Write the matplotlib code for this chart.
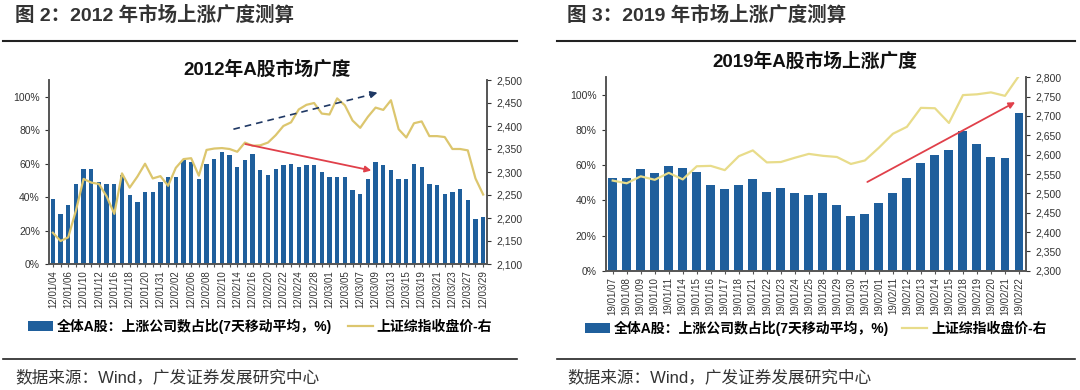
import numpy as np
import matplotlib
matplotlib.use('Agg')
import matplotlib.pyplot as plt
from matplotlib.patches import Patch
from matplotlib.lines import Line2D
from matplotlib.ticker import FuncFormatter

# 全局字体：西文用 Liberation Sans，中文回退到 Noto Sans CJK SC
plt.rcParams['font.family'] = ['Liberation Sans', 'Noto Sans CJK SC']
plt.rcParams['axes.unicode_minus'] = False

# =====数据：2012年=====
dates_2012 = ['12/01/04', '12/01/05', '12/01/06', '12/01/09', '12/01/10', '12/01/11', '12/01/12', '12/01/13',
              '12/01/16', '12/01/17', '12/01/18', '12/01/19', '12/01/20', '12/01/30', '12/01/31',
              '12/02/01', '12/02/02', '12/02/03', '12/02/06', '12/02/07', '12/02/08', '12/02/09', '12/02/10',
              '12/02/13', '12/02/14', '12/02/15', '12/02/16', '12/02/17', '12/02/20', '12/02/21', '12/02/22',
              '12/02/23', '12/02/24', '12/02/27', '12/02/28', '12/02/29', '12/03/01', '12/03/02', '12/03/05',
              '12/03/06', '12/03/07', '12/03/08', '12/03/09', '12/03/12', '12/03/13', '12/03/14', '12/03/15',
              '12/03/16', '12/03/19', '12/03/20', '12/03/21', '12/03/22', '12/03/23', '12/03/26', '12/03/27',
              '12/03/28', '12/03/29']
breadth_2012 = [39, 30, 35, 48, 57, 57, 49, 48, 48, 53, 41, 37, 43, 43, 49, 52, 52, 62, 61,
                51, 60, 63, 67, 65, 58, 62, 66, 56, 53, 57, 59, 60, 58, 59, 59, 55, 52, 52, 52,
                44, 42, 51, 61, 59, 56, 51, 51, 60, 58, 48, 47, 42, 43, 45, 38, 27, 28]
sh_2012 = [2168, 2150, 2158, 2216, 2285, 2277, 2274, 2247, 2209, 2297, 2266, 2290, 2318, 2286, 2291,
           2270, 2309, 2328, 2330, 2292, 2348, 2351, 2352, 2350, 2344, 2364, 2357, 2358, 2364, 2380,
           2400, 2408, 2436, 2446, 2450, 2427, 2425, 2460, 2445, 2412, 2396, 2420, 2440, 2435, 2456,
           2393, 2375, 2406, 2410, 2378, 2378, 2376, 2350, 2350, 2347, 2286, 2251]

# =====数据：2019年=====
dates_2019 = ['19/01/07', '19/01/08', '19/01/09', '19/01/10', '19/01/11', '19/01/14', '19/01/15', '19/01/16',
              '19/01/17', '19/01/18', '19/01/21', '19/01/22', '19/01/23', '19/01/24', '19/01/25', '19/01/28',
              '19/01/29', '19/01/30', '19/01/31', '19/02/01', '19/02/11', '19/02/12', '19/02/13', '19/02/14',
              '19/02/15', '19/02/18', '19/02/19', '19/02/20', '19/02/21', '19/02/22']
breadth_2019 = [52.8, 52.6, 57.6, 55.4, 59.7, 58.4, 56.3, 48.7, 46.2, 49.0, 52.3, 44.5, 47.3, 44.3,
                43.1, 44.3, 37.2, 31.3, 32.0, 38.6, 44.2, 52.5, 61.1, 65.8, 68.4, 79.4, 71.8, 64.8,
                64.3, 89.8]
sh_2019 = [2533, 2526, 2544, 2535, 2553, 2536, 2570, 2571, 2560, 2596, 2611, 2580, 2581, 2592, 2602,
           2597, 2594, 2576, 2585, 2618, 2654, 2672, 2721, 2720, 2682, 2754, 2756, 2761, 2752, 2804]

bar_label = '全体A股：上涨公司数占比(7天移动平均，%)'
line_label = '上证综指收盘价-右'

BAR_COLOR = '#1f5f9c'
AXIS_COLOR = '#555555'


def to_percent(temp, position):
    return '%1.0f' % (100 * temp) + '%'


def draw_panel(fig, rect, dates, breadth, sh, ylim2, yticks2, line_color, bar_width, label_step):
    ax = fig.add_axes(rect)
    x = np.arange(len(dates))
    ax.bar(x, np.array(breadth) / 100, width=bar_width, color=BAR_COLOR, zorder=1)
    ax.set_xlim(-0.5, len(dates) - 0.5)
    ax.set_ylim(0, 1.1)
    ax.set_yticks(np.arange(0, 1.01, 0.2))
    ax.yaxis.set_major_formatter(FuncFormatter(to_percent))
    ax.set_xticks(x)
    ax.set_xticklabels([d if i % label_step == 0 else '' for i, d in enumerate(dates)],
                       rotation=90, fontsize=7, color='#333333')
    ax.tick_params(axis='y', labelsize=7.5, colors='#333333', length=3, direction='out')
    ax.tick_params(axis='x', length=2.5, color=AXIS_COLOR, pad=2)
    ax.spines['top'].set_visible(False)
    for s in ['left', 'right', 'bottom']:
        ax.spines[s].set_color(AXIS_COLOR)
        ax.spines[s].set_linewidth(1.2)

    ax2 = ax.twinx()
    ax2.plot(x, sh, color=line_color, lw=1.6, zorder=3)
    ax2.set_ylim(*ylim2)
    ax2.set_yticks(yticks2)
    ax2.yaxis.set_major_formatter(FuncFormatter(lambda v, p: '{:,.0f}'.format(v)))
    ax2.tick_params(axis='y', labelsize=7.5, colors='#333333', length=3, direction='out')
    ax2.spines['top'].set_visible(False)
    for s in ['left', 'right', 'bottom']:
        ax2.spines[s].set_color(AXIS_COLOR)
        ax2.spines[s].set_linewidth(1.2)
    return ax, ax2


fig = plt.figure(figsize=(10.8, 3.9), dpi=100)
fig.patch.set_facecolor('white')

# =====左图：2012年=====
ax_l, ax_l2 = draw_panel(fig, [49 / 1080, 126 / 390, 438 / 1080, 184 / 390],
                         dates_2012, breadth_2012, sh_2012, (2100, 2500),
                         np.arange(2100, 2501, 50), '#dcc66e', 0.56, 2)
# 虚线箭头（上证综指上涨）
ax_l2.plot([23.5, 41.8], [2393, 2470], color='#1f3864', lw=1.2, ls=(0, (4, 3)), zorder=4)
ax_l2.annotate('', xy=(42.6, 2474), xytext=(41.0, 2467),
               arrowprops=dict(arrowstyle='-|>', color='#1f3864', lw=1.2, mutation_scale=10), zorder=4)
# 红色箭头（上涨广度下降）
ax_l2.annotate('', xy=(41.8, 2302), xytext=(24.7, 2362),
               arrowprops=dict(arrowstyle='-|>', color='#e0404a', lw=1.3, mutation_scale=9), zorder=4)
fig.text(267 / 1080, 1 - 70 / 390, '2012年A股市场广度', ha='center', va='center',
         fontsize=13.5, fontweight='bold', color='#111111')

# =====右图：2019年=====
ax_r, ax_r2 = draw_panel(fig, [605.7 / 1080, 119.3 / 390, 420.3 / 1080, 193.4 / 390],
                         dates_2019, breadth_2019, sh_2019, (2300, 2800),
                         np.arange(2300, 2801, 50), '#e8dc8a', 0.64, 1)
ax_r2.annotate('', xy=(28.9, 2739), xytext=(18.0, 2526),
               arrowprops=dict(arrowstyle='-|>', color='#e0404a', lw=1.3, mutation_scale=9), zorder=4)
fig.text(815 / 1080, 1 - 62 / 390, '2019年A股市场上涨广度', ha='center', va='center',
         fontsize=13.5, fontweight='bold', color='#111111')

# =====图例=====
handles = [Patch(facecolor=BAR_COLOR, edgecolor='none'),
           Line2D([0], [0], color='#dcc66e', lw=1.6)]
fig.legend(handles, [bar_label, line_label], loc='center left', bbox_to_anchor=(28 / 1080, 1 - 326 / 390),
           ncol=2, frameon=False, prop={'size': 10, 'weight': 'bold'}, handlelength=1.8,
           handletextpad=0.3, columnspacing=1.1, borderaxespad=0, borderpad=0)
handles_r = [Patch(facecolor=BAR_COLOR, edgecolor='none'),
             Line2D([0], [0], color='#e8dc8a', lw=1.6)]
fig.legend(handles_r, [bar_label, line_label], loc='center left', bbox_to_anchor=(585 / 1080, 1 - 328 / 390),
           ncol=2, frameon=False, prop={'size': 10, 'weight': 'bold'}, handlelength=1.8,
           handletextpad=0.3, columnspacing=0.9, borderaxespad=0, borderpad=0)

# =====标题、分割线和数据来源=====
fig.text(15 / 1080, 1 - 15 / 390, '图 2：2012 年市场上涨广度测算', ha='left', va='center',
         fontsize=14, fontweight='bold', color='#333333')
fig.text(567 / 1080, 1 - 15 / 390, '图 3：2019 年市场上涨广度测算', ha='left', va='center',
         fontsize=14, fontweight='bold', color='#333333')
for x0, x1 in [(3, 517), (557, 1075)]:
    fig.add_artist(Line2D([x0 / 1080, x1 / 1080], [1 - 40.5 / 390] * 2, color='#222222', lw=1.5))
    fig.add_artist(Line2D([x0 / 1080, x1 / 1080], [1 - 359 / 390] * 2, color='#222222', lw=1.2))
fig.text(15 / 1080, 1 - 377 / 390, '数据来源：Wind，广发证券发展研究中心', ha='left', va='center',
         fontsize=12, color='#333333')
fig.text(567 / 1080, 1 - 377 / 390, '数据来源：Wind，广发证券发展研究中心', ha='left', va='center',
         fontsize=12, color='#333333')

fig.savefig('out.png', format='png', facecolor='white', dpi=100)
